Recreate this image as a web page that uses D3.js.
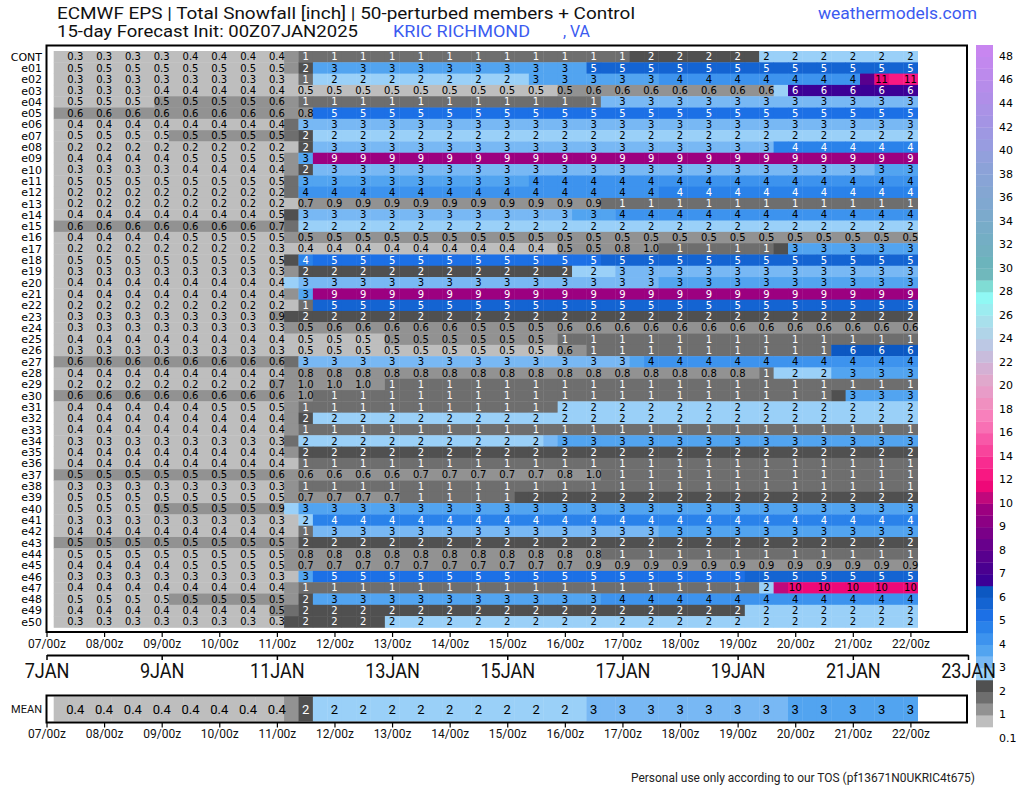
<!DOCTYPE html>
<html><head><meta charset="utf-8">
<script src="https://cdn.jsdelivr.net/npm/d3@7"></script>
<style>body{margin:0;background:#fff;}svg{display:block;}</style>
</head><body>
<svg id="c" width="1024" height="788"></svg>
<script>
// ---------------- DATA ----------------
const memberNames = ["CONT","e01","e02","e03","e04","e05","e06","e07","e08","e09","e10","e11","e12","e13","e14","e15","e16","e17","e18","e19","e20","e21","e22","e23","e24","e25","e26","e27","e28","e29","e30","e31","e32","e33","e34","e35","e36","e37","e38","e39","e40","e41","e42","e43","e44","e45","e46","e47","e48","e49","e50"];
const stepHours = [6,12,18,24,30,36,42,48,54,60,66,72,78,84,90,96,102,108,114,120,126,132,138,144,150,156,162,168,174,180,186,192,198,204,210,216,222,228,234,240,246,252,258,264,270,276,282,288,294,300,306,312,318,324,330,336,342,348,354,360];
const tickDays = [7,8,9,10,11,12,13,14,15,16,17,18,19,20,21,22];
const dateLabelDays = [7,9,11,13,15,17,19,21,23];
const binEdges = [0.1,0.5,1,1.5,2,2.5,3,3.5,4,4.5,5,5.5,6,6.5,7,7.5,8,8.5,9,9.5,10,11,12,13,14,15,16,17,18,19,20,21,22,23,24,25,26,27,28,29,30,31,32,33,34,35,36,37,38,39,40,41,42,43,44,45,46,47,48];
const binColors = ["#bebebe","#929292","#6e6e6e","#505050","#9ad0f8","#78b8f4","#52a4f0","#3d93ee","#2a82ea","#1c70e6",
 "#1464d2","#0c58c2","#3c0096","#4a0090","#58008e","#68008c","#7a0088","#8c0084","#9c0080","#c0087c",
 "#ee0878","#f81882","#f82c90","#f8449c","#f858a8","#f870b4","#f880bc","#f090c0","#e89cc8","#e0a8cc",
 "#d4b0d4","#c8bcdc","#bcc8e4","#b0d4e8","#a8e0ec","#9cecf0","#90f8f4","#80dcd4","#70b8bc","#6cb4bc",
 "#72b0c0","#74aec4","#78acc8","#7caacc","#80a8d0","#84a6d2","#88a4d6","#8ca2d8","#92a0dc","#989ce0",
 "#9e98e2","#a494e4","#aa92e6","#b08ee8","#b68cea","#bc8aec","#c288ee","#c886f0"];
const whiteTextBins = [2,3,8,9,10,11,12,13,14,15,16,17,18,19];
const colorbarLabels = [0.1,1,2,3,4,5,6,7,8,9,10,12,14,16,18,20,22,24,26,28,30,32,34,36,38,40,42,44,46,48];

const snow_CONT = [0.3,0.3,0.3,0.3,0.3,0.3,0.3,0.3,0.3,0.4, 0.4,0.4,0.4,0.4,0.4,0.4,0.7,1.2,1.2,1.2, 1.2,1.2,1.2,1.2,1.2,1.2,1.2,1.2,1.2,1.2, 1.2,1.2,1.2,1.2,1.2,1.2,1.2,1.2,1.2,1.2, 1.8,1.8,1.8,1.8,1.8,1.8,1.8,1.8,1.8,2.2, 2.2,2.2,2.2,2.2,2.2,2.2,2.2,2.2,2.2,2.2];
const snow_e01 = [0.48,0.48,0.48,0.48,0.48,0.48,0.48,0.48,0.48,0.48, 0.48,0.48,0.48,0.48,0.48,0.48,0.8,1.8,3.2,3.2, 3.2,3.2,3.2,3.2,3.2,3.2,3.2,3.2,3.2,3.2, 3.2,3.2,3.2,3.2,3.2,3.2,3.2,5.2,5.2,5.2, 5.2,5.2,5.2,5.2,5.2,5.2,5.2,5.2,5.2,5.2, 5.2,5.2,5.2,5.2,5.2,5.2,5.2,5.2,5.2,5.2];
const snow_e02 = [0.3,0.3,0.3,0.3,0.3,0.3,0.3,0.3,0.3,0.3, 0.3,0.3,0.3,0.3,0.3,0.3,0.4,1.2,2.2,2.2, 2.2,2.2,2.2,2.2,2.2,2.2,2.2,2.2,2.2,2.2, 2.2,2.2,2.2,3.2,3.2,3.2,3.2,3.2,3.2,3.2, 3.2,3.2,3.7,3.7,3.7,3.7,3.7,3.7,3.7,3.7, 3.7,3.7,3.7,3.7,3.7,3.7,7.2,10.8,11.2,11.3];
const snow_e03 = [0.3,0.3,0.3,0.3,0.3,0.3,0.3,0.4,0.4,0.4, 0.4,0.4,0.4,0.4,0.4,0.4,0.45,0.48,0.48,0.48, 0.48,0.48,0.48,0.48,0.48,0.48,0.48,0.48,0.48,0.48, 0.48,0.48,0.48,0.48,0.49,0.52,0.55,0.6,0.6,0.6, 0.6,0.6,0.6,0.6,0.6,0.6,0.6,0.6,0.6,0.6, 2.3,6.2,6.2,6.2,6.2,6.2,6.2,6.2,6.2,6.2];
const snow_e04 = [0.48,0.48,0.48,0.48,0.48,0.48,0.48,0.52,0.52,0.52, 0.52,0.52,0.52,0.52,0.52,0.6,0.7,1.2,1.2,1.2, 1.2,1.2,1.2,1.2,1.2,1.2,1.2,1.2,1.2,1.2, 1.2,1.2,1.2,1.2,1.2,1.2,1.2,1.2,2.7,2.7, 2.7,2.7,2.7,2.7,2.7,2.7,2.7,2.7,2.7,2.7, 2.7,2.7,2.7,2.7,2.7,2.7,2.7,2.7,2.7,2.7];
const snow_e05 = [0.6,0.6,0.6,0.6,0.6,0.6,0.6,0.6,0.6,0.6, 0.6,0.6,0.6,0.6,0.6,0.6,0.7,0.8,4.7,4.7, 4.7,4.7,4.7,4.7,4.7,4.7,4.7,4.7,4.7,4.7, 4.7,4.7,4.7,4.7,4.7,4.7,4.7,4.7,4.7,4.7, 4.7,4.7,4.7,4.7,4.7,4.7,4.7,4.7,4.7,4.7, 4.7,4.7,4.7,4.7,4.7,4.7,4.7,4.7,4.7,4.7];
const snow_e06 = [0.4,0.4,0.4,0.4,0.4,0.4,0.4,0.4,0.4,0.4, 0.4,0.4,0.4,0.4,0.4,0.4,1.2,2.7,2.7,2.7, 2.7,2.7,2.7,2.7,2.7,2.7,2.7,2.7,2.7,2.7, 2.7,2.7,2.7,2.7,2.7,2.7,2.7,2.7,2.7,2.7, 2.7,2.7,2.7,2.7,2.7,2.7,2.7,2.7,2.7,2.7, 2.7,2.7,2.7,2.7,2.7,2.7,2.7,2.7,2.7,2.7];
const snow_e07 = [0.48,0.48,0.48,0.48,0.48,0.48,0.48,0.48,0.52,0.52, 0.52,0.52,0.52,0.52,0.52,0.52,1.3,1.8,2.2,2.2, 2.2,2.2,2.2,2.2,2.2,2.2,2.2,2.2,2.2,2.2, 2.2,2.2,2.2,2.2,2.2,2.2,2.2,2.2,2.2,2.2, 2.2,2.2,2.2,2.2,2.2,2.2,2.2,2.2,2.2,2.2, 2.2,2.2,2.2,2.2,2.2,2.2,2.2,2.2,2.2,2.2];
const snow_e08 = [0.2,0.2,0.2,0.2,0.2,0.2,0.2,0.2,0.2,0.2, 0.2,0.2,0.2,0.2,0.2,0.2,0.2,1.8,2.7,2.7, 2.7,2.7,2.7,2.7,2.7,2.7,2.7,2.7,2.7,2.7, 2.7,2.7,2.7,2.7,2.7,2.7,2.7,2.7,2.7,2.7, 2.7,2.7,2.7,2.7,2.7,2.7,2.7,2.7,2.7,2.7, 4.2,4.2,4.2,4.2,4.2,4.2,4.2,4.2,4.2,4.2];
const snow_e09 = [0.4,0.4,0.4,0.4,0.4,0.4,0.4,0.4,0.48,0.48, 0.48,0.48,0.48,0.48,0.48,0.48,0.8,3.2,9.2,9.2, 9.2,9.2,9.2,9.2,9.2,9.2,9.2,9.2,9.2,9.2, 9.2,9.2,9.2,9.2,9.2,9.2,9.2,9.2,9.2,9.2, 9.2,9.2,9.2,9.2,9.2,9.2,9.2,9.2,9.2,9.2, 9.2,9.2,9.2,9.2,9.2,9.2,9.2,9.2,9.2,9.2];
const snow_e10 = [0.3,0.3,0.3,0.3,0.3,0.3,0.3,0.3,0.4,0.4, 0.4,0.4,0.4,0.4,0.4,0.4,0.8,1.8,2.7,2.7, 2.7,2.7,2.7,2.7,2.7,2.7,2.7,2.7,2.7,2.7, 2.7,2.7,2.7,2.7,2.7,2.7,2.7,2.7,2.7,2.7, 2.7,2.7,2.7,2.7,2.7,2.7,2.7,2.7,2.7,2.7, 2.7,2.7,2.7,2.7,2.7,2.7,2.7,3.2,3.2,3.2];
const snow_e11 = [0.48,0.48,0.48,0.48,0.48,0.48,0.48,0.48,0.48,0.48, 0.48,0.48,0.48,0.48,0.48,0.48,1.2,3.2,3.2,3.2, 3.2,3.2,3.2,3.2,3.2,3.2,3.2,3.2,3.2,3.2, 3.2,3.2,3.2,3.7,3.7,3.7,3.7,3.7,3.7,3.7, 3.7,3.7,3.7,3.7,3.7,3.7,3.7,3.7,3.7,3.7, 3.7,3.7,3.7,3.7,3.7,3.7,3.7,3.7,3.7,3.7];
const snow_e12 = [0.2,0.2,0.2,0.2,0.2,0.2,0.2,0.2,0.2,0.2, 0.2,0.2,0.2,0.2,0.2,0.2,1.2,3.7,3.7,3.7, 3.7,3.7,3.7,3.7,3.7,3.7,3.7,3.7,3.7,3.7, 3.7,3.7,3.7,3.7,3.7,3.7,3.7,3.7,3.7,3.7, 3.7,3.7,4.2,4.2,4.2,4.2,4.2,4.2,4.2,4.2, 4.2,4.2,4.2,4.2,4.2,4.2,4.2,4.2,4.2,4.2];
const snow_e13 = [0.2,0.2,0.2,0.2,0.2,0.2,0.2,0.2,0.2,0.2, 0.2,0.2,0.2,0.2,0.2,0.2,0.45,0.7,0.9,0.9, 0.9,0.9,0.9,0.9,0.9,0.9,0.9,0.9,0.9,0.9, 0.9,0.9,0.9,0.9,0.9,0.9,0.9,0.9,1.1,1.1, 1.1,1.1,1.1,1.1,1.1,1.1,1.1,1.1,1.1,1.1, 1.1,1.1,1.1,1.1,1.1,1.1,1.1,1.1,1.1,1.1];
const snow_e14 = [0.4,0.4,0.4,0.4,0.4,0.4,0.4,0.4,0.4,0.4, 0.4,0.4,0.4,0.4,0.4,0.48,1.8,2.7,2.7,2.7, 2.7,2.7,2.7,2.7,2.7,2.7,2.7,2.7,2.7,2.7, 2.7,2.7,2.7,2.7,2.7,2.7,3.2,3.2,3.2,3.7, 3.7,3.7,3.7,3.7,3.7,3.7,3.7,3.7,3.7,3.7, 3.7,3.7,3.7,3.7,3.7,3.7,3.7,3.7,3.7,3.7];
const snow_e15 = [0.6,0.6,0.6,0.6,0.6,0.6,0.6,0.6,0.6,0.6, 0.6,0.6,0.6,0.6,0.6,0.7,1.2,2.2,2.2,2.2, 2.2,2.2,2.2,2.2,2.2,2.2,2.2,2.2,2.2,2.2, 2.2,2.2,2.2,2.2,2.2,2.2,2.2,2.2,2.2,2.2, 2.2,2.2,2.2,2.2,2.2,2.2,2.2,2.2,2.2,2.2, 2.2,2.2,2.2,2.2,2.2,2.2,2.2,2.2,2.2,2.2];
const snow_e16 = [0.4,0.4,0.4,0.4,0.4,0.4,0.4,0.4,0.48,0.48, 0.48,0.48,0.48,0.48,0.48,0.48,0.52,0.52,0.52,0.52, 0.52,0.52,0.52,0.52,0.52,0.52,0.52,0.52,0.52,0.52, 0.52,0.52,0.52,0.52,0.52,0.52,0.52,0.52,0.52,0.52, 0.52,0.52,0.52,0.52,0.52,0.52,0.52,0.52,0.52,0.52, 0.52,0.52,0.52,0.52,0.52,0.52,0.52,0.52,0.52,0.52];
const snow_e17 = [0.2,0.2,0.2,0.2,0.2,0.2,0.2,0.2,0.2,0.2, 0.2,0.2,0.2,0.2,0.2,0.3,0.35,0.4,0.4,0.4, 0.4,0.4,0.4,0.4,0.4,0.4,0.4,0.4,0.4,0.4, 0.4,0.4,0.4,0.4,0.45,0.52,0.53,0.54,0.7,0.8, 0.9,0.97,1.2,1.2,1.2,1.2,1.2,1.2,1.2,1.2, 1.8,3.2,3.2,3.2,3.2,3.2,3.2,3.2,3.2,3.2];
const snow_e18 = [0.48,0.48,0.48,0.48,0.48,0.48,0.48,0.48,0.48,0.48, 0.48,0.48,0.48,0.48,0.48,0.48,1.8,4.2,4.7,4.7, 4.7,4.7,4.7,4.7,4.7,4.7,4.7,4.7,4.7,4.7, 4.7,4.7,4.7,4.7,4.7,4.7,4.7,4.7,5.2,5.2, 5.2,5.2,5.2,5.2,5.2,5.2,5.2,5.2,5.2,5.2, 5.2,5.2,5.2,5.2,5.2,5.2,5.2,5.2,5.2,5.2];
const snow_e19 = [0.3,0.3,0.3,0.3,0.3,0.3,0.3,0.3,0.3,0.3, 0.3,0.3,0.3,0.3,0.3,0.3,0.7,1.8,1.8,1.8, 1.8,1.8,1.8,1.8,1.8,1.8,1.8,1.8,1.8,1.8, 1.8,1.8,1.8,1.8,1.8,1.8,2.2,2.2,2.2,2.7, 2.7,2.7,2.7,2.7,2.7,2.7,2.7,2.7,2.7,2.7, 2.7,2.7,2.7,2.7,2.7,2.7,2.7,2.7,2.7,2.7];
const snow_e20 = [0.4,0.4,0.4,0.4,0.4,0.4,0.4,0.4,0.4,0.4, 0.4,0.4,0.4,0.4,0.4,0.4,2.2,2.7,2.7,2.7, 2.7,2.7,2.7,2.7,2.7,2.7,2.7,2.7,2.7,2.7, 2.7,2.7,2.7,2.7,2.7,2.7,2.7,2.7,2.7,2.7, 2.7,2.7,3.2,3.2,3.2,3.2,3.2,3.2,3.2,3.2, 3.2,3.2,3.2,3.2,3.2,3.2,3.2,3.2,3.2,3.2];
const snow_e21 = [0.4,0.4,0.4,0.4,0.4,0.4,0.4,0.4,0.4,0.4, 0.4,0.4,0.4,0.4,0.4,0.4,0.8,3.2,9.2,9.2, 9.2,9.2,9.2,9.2,9.2,9.2,9.2,9.2,9.2,9.2, 9.2,9.2,9.2,9.2,9.2,9.2,9.2,9.2,9.2,9.2, 9.2,9.2,9.2,9.2,9.2,9.2,9.2,9.2,9.2,9.2, 9.2,9.2,9.2,9.2,9.2,9.2,9.2,9.2,9.2,9.2];
const snow_e22 = [0.2,0.2,0.2,0.2,0.2,0.2,0.2,0.2,0.2,0.2, 0.2,0.2,0.2,0.2,0.2,0.2,0.2,1.2,5.2,5.2, 5.2,5.2,5.2,5.2,5.2,5.2,5.2,5.2,5.2,5.2, 5.2,5.2,5.2,5.2,5.2,5.2,5.2,5.2,5.2,5.2, 5.2,5.2,5.2,5.2,5.2,5.2,5.2,5.2,5.2,5.2, 5.2,5.2,5.2,5.2,5.2,5.2,5.2,5.2,5.2,5.2];
const snow_e23 = [0.3,0.3,0.3,0.3,0.3,0.3,0.3,0.3,0.3,0.3, 0.3,0.3,0.3,0.3,0.3,0.9,1.8,1.8,1.8,1.8, 1.8,1.8,1.8,1.8,1.8,1.8,1.8,1.8,1.8,1.8, 1.8,1.8,1.8,1.8,1.8,1.8,1.8,1.8,1.8,1.8, 1.8,1.8,1.8,1.8,1.8,1.8,1.8,1.8,1.8,1.8, 1.8,1.8,1.8,1.8,1.8,1.8,1.8,1.8,1.8,1.8];
const snow_e24 = [0.3,0.3,0.3,0.3,0.3,0.3,0.3,0.3,0.3,0.3, 0.3,0.3,0.3,0.3,0.3,0.3,0.52,0.52,0.6,0.6, 0.6,0.6,0.6,0.6,0.6,0.6,0.6,0.6,0.6,0.52, 0.52,0.52,0.52,0.52,0.52,0.6,0.6,0.6,0.6,0.6, 0.6,0.6,0.6,0.6,0.6,0.6,0.6,0.6,0.6,0.6, 0.6,0.6,0.6,0.6,0.6,0.6,0.6,0.6,0.6,0.6];
const snow_e25 = [0.4,0.4,0.4,0.4,0.4,0.4,0.4,0.4,0.4,0.4, 0.4,0.4,0.4,0.4,0.4,0.4,0.45,0.48,0.48,0.48, 0.48,0.48,0.48,0.52,0.52,0.52,0.52,0.52,0.52,0.52, 0.52,0.52,0.52,0.52,0.52,1.1,1.1,1.1,1.1,1.1, 1.1,1.1,1.1,1.1,1.1,1.1,1.1,1.1,1.1,1.1, 1.1,1.1,1.1,1.1,1.1,1.1,1.1,1.1,1.1,1.1];
const snow_e26 = [0.3,0.3,0.3,0.3,0.3,0.3,0.3,0.3,0.3,0.3, 0.3,0.3,0.3,0.3,0.3,0.3,0.4,0.48,0.48,0.48, 0.48,0.48,0.48,0.48,0.48,0.48,0.48,0.48,0.48,0.48, 0.48,0.48,0.48,0.48,0.48,0.6,0.7,1.1,1.1,1.1, 1.1,1.1,1.1,1.1,1.1,1.1,1.1,1.1,1.1,1.1, 1.1,1.1,1.1,1.1,5.7,5.7,5.7,5.7,5.7,5.7];
const snow_e27 = [0.6,0.6,0.6,0.6,0.6,0.6,0.6,0.6,0.6,0.6, 0.6,0.6,0.6,0.6,0.6,0.6,1.2,2.7,2.7,2.7, 2.7,2.7,2.7,2.7,2.7,2.7,2.7,2.7,2.7,2.7, 2.7,2.7,2.7,2.7,2.7,2.7,2.7,2.7,2.7,2.7, 3.2,3.7,3.7,3.7,3.7,3.7,3.7,3.7,3.7,3.7, 3.7,3.7,3.7,3.7,3.7,3.7,3.7,3.7,3.7,3.7];
const snow_e28 = [0.4,0.4,0.4,0.4,0.4,0.4,0.4,0.4,0.4,0.4, 0.4,0.4,0.4,0.4,0.4,0.4,0.6,0.8,0.8,0.8, 0.8,0.8,0.8,0.8,0.8,0.8,0.8,0.8,0.8,0.8, 0.8,0.8,0.8,0.8,0.8,0.8,0.8,0.8,0.8,0.8, 0.8,0.8,0.8,0.8,0.8,0.8,0.8,0.8,0.8,1.1, 2.2,2.2,2.2,2.2,3.2,3.2,3.2,3.2,3.2,3.2];
const snow_e29 = [0.2,0.2,0.2,0.2,0.2,0.2,0.2,0.2,0.2,0.2, 0.2,0.2,0.2,0.2,0.2,0.7,0.9,0.97,0.97,0.97, 0.97,0.97,0.97,1.1,1.1,1.1,1.1,1.1,1.1,1.1, 1.1,1.1,1.1,1.1,1.1,1.1,1.1,1.1,1.1,1.1, 1.1,1.1,1.1,1.1,1.1,1.1,1.1,1.1,1.1,1.1, 1.1,1.1,1.1,1.1,1.1,1.1,1.1,1.1,1.1,1.1];
const snow_e30 = [0.6,0.6,0.6,0.6,0.6,0.6,0.6,0.6,0.6,0.6, 0.6,0.6,0.6,0.6,0.6,0.6,0.8,0.97,1.1,1.1, 1.1,1.1,1.1,1.1,1.1,1.1,1.1,1.1,1.1,1.1, 1.1,1.1,1.1,1.1,1.1,1.1,1.1,1.1,1.1,1.1, 1.1,1.1,1.1,1.1,1.1,1.1,1.1,1.1,1.1,1.1, 1.1,1.1,1.1,1.1,1.8,3.2,3.2,3.2,3.2,3.2];
const snow_e31 = [0.4,0.4,0.4,0.4,0.4,0.4,0.4,0.4,0.4,0.4, 0.48,0.48,0.48,0.48,0.48,0.48,0.7,1.1,1.1,1.1, 1.1,1.1,1.1,1.1,1.1,1.1,1.1,1.1,1.1,1.1, 1.1,1.1,1.1,1.1,1.1,2.2,2.2,2.2,2.2,2.2, 2.2,2.2,2.2,2.2,2.2,2.2,2.2,2.2,2.2,2.2, 2.2,2.2,2.2,2.2,2.2,2.2,2.2,2.2,2.2,2.2];
const snow_e32 = [0.4,0.4,0.4,0.4,0.4,0.4,0.4,0.4,0.4,0.4, 0.4,0.4,0.4,0.4,0.4,0.4,0.7,1.8,2.2,2.2, 2.2,2.2,2.2,2.2,2.2,2.2,2.2,2.2,2.2,2.2, 2.2,2.2,2.2,2.2,2.2,2.2,2.2,2.2,2.2,2.2, 2.2,2.2,2.2,2.2,2.2,2.2,2.2,2.2,2.2,2.2, 2.2,2.2,2.2,2.2,2.2,2.2,2.2,2.2,2.2,2.2];
const snow_e33 = [0.4,0.4,0.4,0.4,0.4,0.4,0.4,0.4,0.4,0.4, 0.4,0.4,0.4,0.4,0.4,0.4,0.7,1.1,1.1,1.1, 1.1,1.1,1.1,1.1,1.1,1.1,1.1,1.1,1.1,1.1, 1.1,1.1,1.1,1.1,1.1,1.1,1.1,1.1,1.1,1.1, 1.1,1.1,1.1,1.1,1.1,1.1,1.1,1.1,1.1,1.1, 1.1,1.1,1.1,1.1,1.1,1.1,1.1,1.1,1.1,1.1];
const snow_e34 = [0.3,0.3,0.3,0.3,0.3,0.3,0.3,0.3,0.3,0.3, 0.3,0.3,0.3,0.3,0.3,0.3,1.2,2.2,2.2,2.2, 2.2,2.2,2.2,2.2,2.2,2.2,2.2,2.2,2.2,2.2, 2.2,2.2,2.2,2.2,2.7,3.2,3.2,3.2,3.2,3.2, 3.2,3.2,3.2,3.2,3.2,3.2,3.2,3.2,3.2,3.2, 3.2,3.2,3.2,3.2,3.2,3.2,3.2,3.2,3.2,3.2];
const snow_e35 = [0.4,0.4,0.4,0.4,0.4,0.4,0.4,0.4,0.4,0.4, 0.4,0.4,0.4,0.4,0.4,0.4,0.7,1.8,1.8,1.8, 1.8,1.8,1.8,1.8,1.8,1.8,1.8,1.8,1.8,1.8, 1.8,1.8,1.8,1.8,1.8,1.8,1.8,1.8,1.8,1.8, 1.8,1.8,1.8,1.8,1.8,1.8,1.8,1.8,1.8,1.8, 1.8,1.8,1.8,1.8,1.8,1.8,1.8,1.8,1.8,1.8];
const snow_e36 = [0.4,0.4,0.4,0.4,0.4,0.4,0.4,0.4,0.4,0.4, 0.4,0.4,0.4,0.4,0.4,0.4,0.4,1.1,1.1,1.1, 1.1,1.1,1.1,1.1,1.1,1.1,1.1,1.1,1.1,1.1, 1.1,1.1,1.1,1.1,1.1,1.1,1.1,1.1,1.1,1.1, 1.1,1.1,1.1,1.1,1.1,1.1,1.1,1.1,1.1,1.1, 1.1,1.1,1.1,1.1,1.1,1.1,1.1,1.1,1.1,1.1];
const snow_e37 = [0.52,0.52,0.52,0.52,0.52,0.52,0.52,0.52,0.52,0.52, 0.52,0.52,0.52,0.52,0.52,0.6,0.6,0.6,0.6,0.6, 0.6,0.6,0.6,0.6,0.6,0.7,0.7,0.7,0.7,0.7, 0.7,0.7,0.7,0.7,0.7,0.8,0.8,0.97,1.1,1.1, 1.1,1.1,1.1,1.1,1.1,1.1,1.1,1.1,1.1,1.1, 1.1,1.1,1.1,1.1,1.1,1.1,1.1,1.1,1.1,1.1];
const snow_e38 = [0.3,0.3,0.3,0.3,0.3,0.3,0.3,0.3,0.3,0.3, 0.3,0.3,0.3,0.3,0.3,0.3,0.7,1.1,1.1,1.1, 1.1,1.1,1.1,1.1,1.1,1.1,1.1,1.1,1.1,1.1, 1.1,1.1,1.1,1.1,1.1,1.1,1.1,1.1,1.1,1.1, 1.1,1.1,1.1,1.1,1.1,1.1,1.1,1.1,1.1,1.1, 1.1,1.1,1.1,1.1,1.1,1.1,1.1,1.1,1.1,1.1];
const snow_e39 = [0.48,0.48,0.48,0.48,0.48,0.48,0.48,0.48,0.48,0.48, 0.48,0.48,0.48,0.48,0.48,0.48,0.6,0.7,0.7,0.7, 0.7,0.7,0.7,0.7,1.1,1.1,1.1,1.1,1.1,1.1, 1.1,1.1,1.8,1.8,1.8,1.8,1.8,1.8,1.8,1.8, 1.8,1.8,1.8,1.8,1.8,1.8,1.8,1.8,1.8,1.8, 1.8,1.8,1.8,1.8,1.8,1.8,1.8,1.8,1.8,1.8];
const snow_e40 = [0.48,0.48,0.48,0.48,0.48,0.48,0.48,0.52,0.52,0.52, 0.52,0.52,0.52,0.52,0.52,0.9,2.2,3.2,3.2,3.2, 3.2,3.2,3.2,3.2,3.2,3.2,3.2,3.2,3.2,3.2, 3.2,3.2,3.2,3.2,3.2,3.2,3.2,3.2,3.2,3.2, 3.2,3.2,3.2,3.2,3.2,3.2,3.2,3.2,3.2,3.2, 3.2,3.2,3.2,3.2,3.2,3.2,3.2,3.2,3.2,3.2];
const snow_e41 = [0.3,0.3,0.3,0.3,0.3,0.3,0.3,0.3,0.3,0.3, 0.3,0.3,0.3,0.3,0.3,0.3,0.3,2.2,4.2,4.2, 4.2,4.2,4.2,4.2,4.2,4.2,4.2,4.2,4.2,4.2, 4.2,4.2,4.2,4.2,4.2,4.2,4.2,4.2,4.2,4.2, 4.2,4.2,4.2,4.2,4.2,4.2,4.2,4.2,4.2,4.2, 4.2,4.2,4.2,4.2,4.2,4.2,4.2,4.2,4.2,4.2];
const snow_e42 = [0.4,0.4,0.4,0.4,0.4,0.4,0.4,0.4,0.4,0.4, 0.4,0.4,0.4,0.4,0.4,0.4,0.4,1.2,2.7,2.7, 2.7,2.7,2.7,2.7,2.7,2.7,2.7,2.7,2.7,2.7, 2.7,2.7,2.7,2.7,2.7,2.7,2.7,2.7,2.7,2.7, 2.7,2.7,3.2,3.2,3.2,3.2,3.2,3.2,3.2,3.2, 3.2,3.2,3.2,3.2,3.2,3.2,3.2,3.2,3.2,3.2];
const snow_e43 = [0.52,0.52,0.52,0.52,0.52,0.52,0.52,0.52,0.52,0.52, 0.52,0.52,0.52,0.52,0.52,0.52,0.7,1.8,1.8,1.8, 1.8,1.8,1.8,1.8,1.8,1.8,1.8,1.8,1.8,1.8, 1.8,1.8,1.8,1.8,1.8,1.8,1.8,1.8,1.8,1.8, 1.8,1.8,1.8,1.8,1.8,1.8,1.8,1.8,1.8,1.8, 1.8,1.8,1.8,1.8,1.8,1.8,1.8,1.8,1.8,1.8];
const snow_e44 = [0.48,0.48,0.48,0.48,0.48,0.48,0.48,0.48,0.48,0.48, 0.48,0.48,0.48,0.48,0.48,0.48,0.6,0.8,0.8,0.8, 0.8,0.8,0.8,0.8,0.8,0.8,0.8,0.8,0.8,0.8, 0.8,0.8,0.8,0.8,0.8,0.8,0.8,0.8,1.1,1.1, 1.1,1.1,1.1,1.1,1.1,1.1,1.1,1.1,1.1,1.1, 1.1,1.1,1.1,1.1,1.1,1.1,1.1,1.1,1.1,1.1];
const snow_e45 = [0.4,0.4,0.4,0.4,0.4,0.4,0.4,0.4,0.48,0.48, 0.48,0.48,0.48,0.48,0.48,0.48,0.6,0.7,0.7,0.7, 0.7,0.7,0.7,0.7,0.7,0.7,0.7,0.7,0.7,0.7, 0.7,0.7,0.7,0.7,0.7,0.7,0.8,0.9,0.9,0.9, 0.9,0.9,0.9,0.9,0.9,0.9,0.9,0.9,0.9,0.9, 0.9,0.9,0.9,0.9,0.9,0.9,0.9,0.9,0.9,0.9];
const snow_e46 = [0.3,0.3,0.3,0.3,0.3,0.3,0.3,0.3,0.3,0.3, 0.3,0.3,0.3,0.3,0.3,0.3,0.3,3.2,4.7,4.7, 4.7,4.7,4.7,4.7,4.7,4.7,4.7,4.7,4.7,4.7, 4.7,4.7,4.7,4.7,4.7,4.7,4.7,4.7,4.7,4.7, 4.7,4.7,4.7,4.7,4.7,4.7,4.7,4.7,5.2,5.2, 5.2,5.2,5.2,5.2,5.2,5.2,5.2,5.2,5.2,5.2];
const snow_e47 = [0.4,0.4,0.4,0.4,0.4,0.4,0.4,0.4,0.4,0.4, 0.4,0.4,0.4,0.4,0.4,0.4,0.7,1.2,1.2,1.2, 1.2,1.2,1.2,1.2,1.2,1.2,1.2,1.2,1.2,1.2, 1.2,1.2,1.2,1.2,1.2,1.2,1.2,1.2,1.2,1.2, 1.2,1.2,1.2,1.2,1.2,1.2,1.2,1.2,1.2,2.2, 9.7,10.2,10.2,10.2,10.2,10.2,10.2,10.2,10.2,10.2];
const snow_e48 = [0.48,0.48,0.48,0.48,0.48,0.48,0.48,0.48,0.52,0.52, 0.52,0.52,0.52,0.52,0.52,0.52,0.7,1.8,3.2,3.2, 3.2,3.2,3.2,3.2,3.2,3.2,3.2,3.2,3.2,3.2, 3.2,3.2,3.2,3.2,3.2,3.2,3.2,3.2,3.7,3.7, 3.7,3.7,3.7,3.7,3.7,3.7,3.7,3.7,3.7,3.7, 3.7,3.7,3.7,3.7,3.7,3.7,3.7,3.7,3.7,3.7];
const snow_e49 = [0.4,0.4,0.4,0.4,0.4,0.4,0.4,0.4,0.4,0.4, 0.4,0.4,0.4,0.4,0.4,0.52,1.2,1.8,1.8,1.8, 1.8,1.8,1.8,1.8,1.8,1.8,1.8,1.8,1.8,1.8, 1.8,1.8,1.8,1.8,1.8,1.8,1.8,1.8,1.8,1.8, 1.8,1.8,1.8,1.8,1.8,1.8,1.8,1.8,2.2,2.2, 2.2,2.2,2.2,2.2,2.2,2.2,2.2,2.2,2.2,2.2];
const snow_e50 = [0.3,0.3,0.3,0.3,0.3,0.3,0.3,0.3,0.3,0.3, 0.3,0.3,0.3,0.3,0.3,0.3,1.8,1.8,1.8,1.8, 1.8,1.8,1.8,2.2,2.2,2.2,2.2,2.2,2.2,2.2, 2.2,2.2,2.2,2.2,2.2,2.2,2.2,2.2,2.2,2.2, 2.2,2.2,2.2,2.2,2.2,2.2,2.2,2.2,2.2,2.2, 2.2,2.2,2.2,2.2,2.2,2.2,2.2,2.2,2.2,2.2];
const snow_MEAN = [0.4,0.4,0.4,0.4,0.4,0.4,0.4,0.4,0.4,0.4, 0.4,0.4,0.4,0.4,0.4,0.4,0.8,1.8,2.2,2.2, 2.2,2.2,2.2,2.2,2.2,2.2,2.2,2.2,2.2,2.2, 2.2,2.2,2.2,2.2,2.2,2.2,2.2,2.7,2.7,2.7, 2.7,2.7,2.7,2.7,2.7,2.7,2.7,2.7,2.7,2.7, 2.7,3.2,3.2,3.2,3.2,3.2,3.2,3.2,3.2,3.2];

const memberRows = [snow_CONT,snow_e01,snow_e02,snow_e03,snow_e04,snow_e05,snow_e06,snow_e07,snow_e08,snow_e09,snow_e10,
 snow_e11,snow_e12,snow_e13,snow_e14,snow_e15,snow_e16,snow_e17,snow_e18,snow_e19,snow_e20,
 snow_e21,snow_e22,snow_e23,snow_e24,snow_e25,snow_e26,snow_e27,snow_e28,snow_e29,snow_e30,
 snow_e31,snow_e32,snow_e33,snow_e34,snow_e35,snow_e36,snow_e37,snow_e38,snow_e39,snow_e40,
 snow_e41,snow_e42,snow_e43,snow_e44,snow_e45,snow_e46,snow_e47,snow_e48,snow_e49,snow_e50];

// ---------------- DRAWING ----------------
const svg = d3.select("#c");
const FC = "Roboto, 'Noto Sans', sans-serif";
const FD = "'DejaVu Sans', Verdana, sans-serif";
const HOUR = 3600000;
const t0 = Date.UTC(2025, 0, 7);
const x = d3.scaleUtc().domain([new Date(t0), new Date(t0 + 384 * HOUR)]).range([46.5, 968]);
const halfW = (x(new Date(t0 + 6 * HOUR)) - x(new Date(t0))) / 2;
const y = d3.scaleBand().domain(memberNames).range([51, 627.4]);
const thresholds = binEdges.slice(1, binEdges.length - 1);
const color = d3.scaleThreshold().domain(thresholds).range(binColors);
const binOf = v => d3.bisectRight(thresholds, v);
const textColor = v => whiteTextBins.includes(binOf(v)) ? "#fff" : "#000";
const fmt = v => v < 1 ? v.toFixed(1) : String(Math.round(v));
const cells = vals => vals.map((v, i) => ({v, t: new Date(t0 + stepHours[i] * HOUR), i}));

// title
function tx(str, px, py, size, fill, len, anchor) {
  const t = svg.append("text").attr("x", px).attr("y", py).attr("font-family", FC)
    .attr("font-size", size).attr("fill", fill).text(str);
  if (anchor) t.attr("text-anchor", anchor);
  if (len) t.attr("textLength", len).attr("lengthAdjust", "spacingAndGlyphs");
  return t;
}
tx("ECMWF EPS | Total Snowfall [inch] | 50-perturbed members + Control", 57, 19, 17, "#111", 578);
tx("15-day Forecast Init: 00Z07JAN2025", 57, 37, 17, "#111", 301);
tx("KRIC RICHMOND", 393, 37, 17, "#3b5bf0", 137);
tx(", VA", 563, 37, 17, "#3b5bf0", 27);
tx("weathermodels.com", 818, 19, 17, "#3b5bf0", 159);
tx("Personal use only according to our TOS (pf13671N0UKRIC4t675)", 975, 782, 12, "#222", 344, "end");

// main grid
const grid = svg.append("g");
memberRows.forEach((vals, ri) => {
  const name = memberNames[ri];
  const g = grid.append("g");
  g.selectAll("rect").data(cells(vals)).join("rect")
    .attr("x", d => x(d.t) - halfW).attr("y", y(name))
    .attr("width", 2 * halfW + 0.4).attr("height", y.bandwidth() + 0.4)
    .attr("fill", d => color(d.v));
  g.selectAll("text").data(cells(vals).filter(d => d.i % 2 === 1)).join("text")
    .attr("x", d => x(d.t)).attr("y", y(name) + y.bandwidth() / 2).attr("dy", "0.36em")
    .attr("text-anchor", "middle").attr("font-family", FD).attr("font-size", 10)
    .attr("fill", d => textColor(d.v)).text(d => fmt(d.v));
});
// row labels
svg.append("g").selectAll("text").data(memberNames).join("text")
  .attr("x", 42).attr("y", d => y(d) + y.bandwidth() / 2).attr("dy", "0.36em")
  .attr("text-anchor", "end").attr("font-family", FD).attr("font-size", 11).attr("fill", "#000").text(d => d);
// frame
svg.append("rect").attr("x", 46.5).attr("y", 45.5).attr("width", 920.5).attr("height", 586.5)
  .attr("fill", "none").attr("stroke", "#000").attr("stroke-width", 2);

// colorbar
const cbTop = 45, cbBot = 727, cbX = 976, cbW = 17;
const subH = (cbBot - cbTop) / binColors.length;
const cbY = d3.scaleLinear().domain([0, binColors.length]).range([cbBot, cbTop]);
svg.append("g").selectAll("rect").data(binColors).join("rect")
  .attr("x", cbX).attr("y", (d, i) => cbY(i + 1)).attr("width", cbW).attr("height", subH + 0.3).attr("fill", d => d);
svg.append("g").selectAll("text").data(colorbarLabels).join("text")
  .attr("x", 999).attr("y", d => cbY(binEdges.indexOf(d)) + 11).attr("dy", "0.36em")
  .attr("font-family", FD).attr("font-size", 11).attr("fill", "#000").text(d => String(d));

// hour axes
const dayDates = tickDays.map(d => new Date(Date.UTC(2025, 0, d)));
function hourAxis(yPos) {
  const g = svg.append("g").attr("transform", `translate(0,${yPos})`)
    .call(d3.axisBottom(x).tickValues(dayDates).tickFormat(d3.utcFormat("%d/%Hz")).tickSize(5).tickPadding(2));
  g.select(".domain").remove();
  g.selectAll("line").attr("stroke", "#000").attr("stroke-width", 1.2);
  g.selectAll("text").attr("font-family", FC).attr("font-size", 12).attr("fill", "#111");
}
hourAxis(632);

// date axis
const dateDates = dateLabelDays.map(d => new Date(Date.UTC(2025, 0, d)));
const dg = svg.append("g").attr("transform", "translate(0,655)")
  .call(d3.axisBottom(x).tickValues(dateDates).tickFormat(d => d.getUTCDate() + "JAN").tickSize(5).tickSizeOuter(0).tickPadding(3));
dg.select(".domain").attr("stroke", "#000").attr("stroke-width", 2);
dg.selectAll("line").attr("stroke", "#000").attr("stroke-width", 1.5);
dg.selectAll("text").attr("font-family", FC).attr("font-size", 21).attr("fill", "#111")
  .each(function () { const L = this.getComputedTextLength(); d3.select(this).attr("textLength", L * 0.86).attr("lengthAdjust", "spacingAndGlyphs"); });

// mean panel
const mg = svg.append("g");
mg.selectAll("rect").data(cells(snow_MEAN)).join("rect")
  .attr("x", d => x(d.t) - halfW).attr("y", 696.5).attr("width", 2 * halfW + 0.4).attr("height", 25)
  .attr("fill", d => color(d.v));
mg.selectAll("text").data(cells(snow_MEAN).filter(d => d.i % 2 === 1)).join("text")
  .attr("x", d => x(d.t)).attr("y", 709).attr("dy", "0.36em").attr("text-anchor", "middle")
  .attr("font-family", FC).attr("font-size", 13).attr("fill", d => textColor(d.v)).text(d => fmt(d.v));
svg.append("rect").attr("x", 46.5).attr("y", 695.5).attr("width", 920.5).attr("height", 27)
  .attr("fill", "none").attr("stroke", "#000").attr("stroke-width", 2);
svg.append("text").attr("x", 42).attr("y", 709).attr("dy", "0.36em").attr("text-anchor", "end")
  .attr("font-family", FC).attr("font-size", 11).attr("fill", "#111").text("MEAN");
hourAxis(722.5);
</script>
</body></html>
